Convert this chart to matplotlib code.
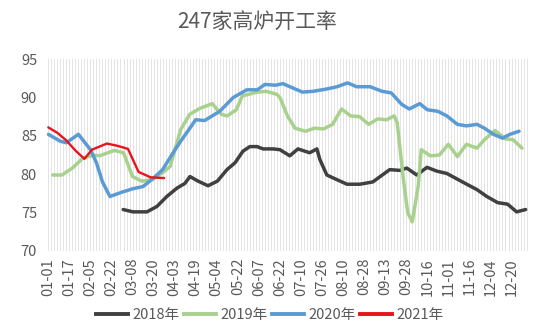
import matplotlib
matplotlib.use("Agg")
import matplotlib.pyplot as plt
from matplotlib.lines import Line2D

plt.rcParams['font.family'] = ['Noto Sans CJK SC', 'DejaVu Sans']

title = "247家高炉开工率"

# category axis: one slot per date in the merged calendar, labelled every 7th
n_categories = 160
tick_labels = ["01-01", "01-17", "02-05", "02-22", "03-08", "03-20", "04-03",
               "04-19", "05-04", "05-22", "06-07", "06-22", "07-10", "07-26",
               "08-10", "08-28", "09-13", "09-28", "10-16", "11-01", "11-16",
               "12-04", "12-20"]
tick_step = 7

# series: category position and utilisation rate (%)
x_2018 = [24.9, 28.1, 32.8, 36.1, 39.4, 42.8, 45.4, 47.1, 49.8, 53.1, 56.2,
          59.4, 62.1, 64.7, 67.0, 69.4, 71.4, 74.7, 77.0, 80.3, 83.0, 85.3,
          86.9, 89.3, 90.3, 92.6, 95.9, 99.3, 103.6, 107.9, 113.5, 116.9,
          119.2, 122.5, 125.9, 129.2, 132.5, 135.8, 139.1, 142.5, 145.8,
          149.4, 152.7, 155.7, 158.7]
y_2018 = [75.4, 75.1, 75.1, 75.8, 77.1, 78.2, 78.8, 79.7, 79.1, 78.5, 79.1,
          80.6, 81.5, 83.0, 83.6, 83.6, 83.3, 83.3, 83.2, 82.4, 83.3, 83.0,
          82.8, 83.3, 81.9, 79.9, 79.3, 78.7, 78.7, 79.0, 80.6, 80.5, 80.8,
          79.9, 80.9, 80.4, 80.1, 79.4, 78.7, 78.0, 77.1, 76.3, 76.1, 75.1,
          75.4]

x_2019 = [1.5, 4.5, 8, 11.5, 15, 17, 22, 25, 28, 31, 34.5, 38, 40.5, 44, 47,
          50.5, 54.5, 57.5, 59.5, 62.5, 64.5, 69.5, 72.5, 76, 77, 79.5, 82,
          85.5, 88.5, 91.5, 94.5, 97.5, 100.5, 103.5, 106.5, 109.5, 112.5,
          115, 116, 118, 119.5, 121, 123, 124, 127, 130, 133, 136, 139,
          142.5, 145, 148.5, 152, 154.5, 157.5]
y_2019 = [79.9, 79.9, 80.8, 82.1, 82.5, 82.4, 83.1, 82.8, 79.7, 79.1, 79.3,
          80.2, 81.0, 85.8, 87.8, 88.6, 89.2, 87.8, 87.6, 88.4, 90.2, 90.7,
          90.8, 90.4, 90.0, 87.6, 86.0, 85.6, 86.0, 85.9, 86.5, 88.5, 87.6,
          87.5, 86.5, 87.2, 87.1, 87.6, 86.7, 79.5, 75.0, 73.8, 78.5, 83.2,
          82.4, 82.5, 83.9, 82.3, 83.9, 83.4, 84.5, 85.7, 84.6, 84.5, 83.4]

x_2020 = [0, 4, 6, 10, 12, 14, 16, 18, 20.5, 24, 28, 31.5, 35, 38, 41.5, 44,
          46, 49, 52, 57, 61.5, 66, 69.5, 72, 75.5, 78, 81.5, 84.5, 88, 92.5,
          96, 99.5, 102.5, 107, 111, 114, 117.5, 120, 123.5, 126, 129.5,
          132.5, 136, 139, 142.5, 145, 148, 151, 153.5, 156.5]
y_2020 = [85.2, 84.3, 84.1, 85.2, 84.2, 83.2, 81.5, 79.0, 77.1, 77.6, 78.1,
          78.4, 79.5, 80.6, 82.8, 84.3, 85.4, 87.1, 87.0, 88.2, 90.0, 91.0,
          91.0, 91.7, 91.6, 91.8, 91.2, 90.7, 90.8, 91.1, 91.4, 91.9, 91.4,
          91.4, 90.8, 90.6, 89.1, 88.5, 89.2, 88.4, 88.2, 87.6, 86.5, 86.3,
          86.5, 86.0, 85.2, 84.7, 85.2, 85.6]

x_2021 = [0, 3, 6, 9, 12, 14.5, 19.5, 23, 26.5, 30, 34, 38.5]
y_2021 = [86.1, 85.4, 84.4, 83.1, 82.0, 83.2, 84.0, 83.7, 83.3, 80.3, 79.6,
          79.5]

series = [
    ("2018年", x_2018, y_2018, "#404040", 2.5),
    ("2019年", x_2019, y_2019, "#a9d18e", 2.5),
    ("2020年", x_2020, y_2020, "#5b9bd5", 2.5),
    ("2021年", x_2021, y_2021, "#e8141b", 1.7),
]

text_color = "#595959"

fig = plt.figure(figsize=(5.5, 3.32), dpi=100)
ax = fig.add_axes([0.0851, 0.244, 0.875, 0.578])

# light vertical grid, one line per category
for i in range(n_categories):
    ax.axvline(i, color="#e4e4e4", lw=0.7, zorder=0)

for name, xs, ys, color, lw in series:
    ax.plot(xs, ys, color=color, lw=lw, solid_joinstyle="round",
            solid_capstyle="round", zorder=3)

ax.set_xlim(-0.5, n_categories - 0.5)
ax.set_ylim(70, 95)
ax.set_yticks(range(70, 96, 5))
ax.set_xticks([k * tick_step for k in range(len(tick_labels))])
ax.set_xticklabels(tick_labels, rotation=90)
ax.tick_params(axis="both", length=0, labelsize=10.5, colors=text_color)
ax.tick_params(axis="y", pad=7)
ax.tick_params(axis="x", pad=5)
for s in ax.spines.values():
    s.set_visible(False)

fig.text(257 / 550, 1 - 22 / 332, title, ha="center", va="center",
         fontsize=15, color=text_color)

handles = [Line2D([], [], color=c, lw=2.8) for _, _, _, c, _ in series]
fig.legend(handles, [s[0] for s in series], loc="center",
           bbox_to_anchor=(270 / 550, 1 - 315 / 332), ncol=4, frameon=False,
           fontsize=10.5, handlelength=2.2, handletextpad=0.3,
           columnspacing=0.3, labelcolor=text_color)

fig.savefig("out.png", dpi=100, facecolor="white")
